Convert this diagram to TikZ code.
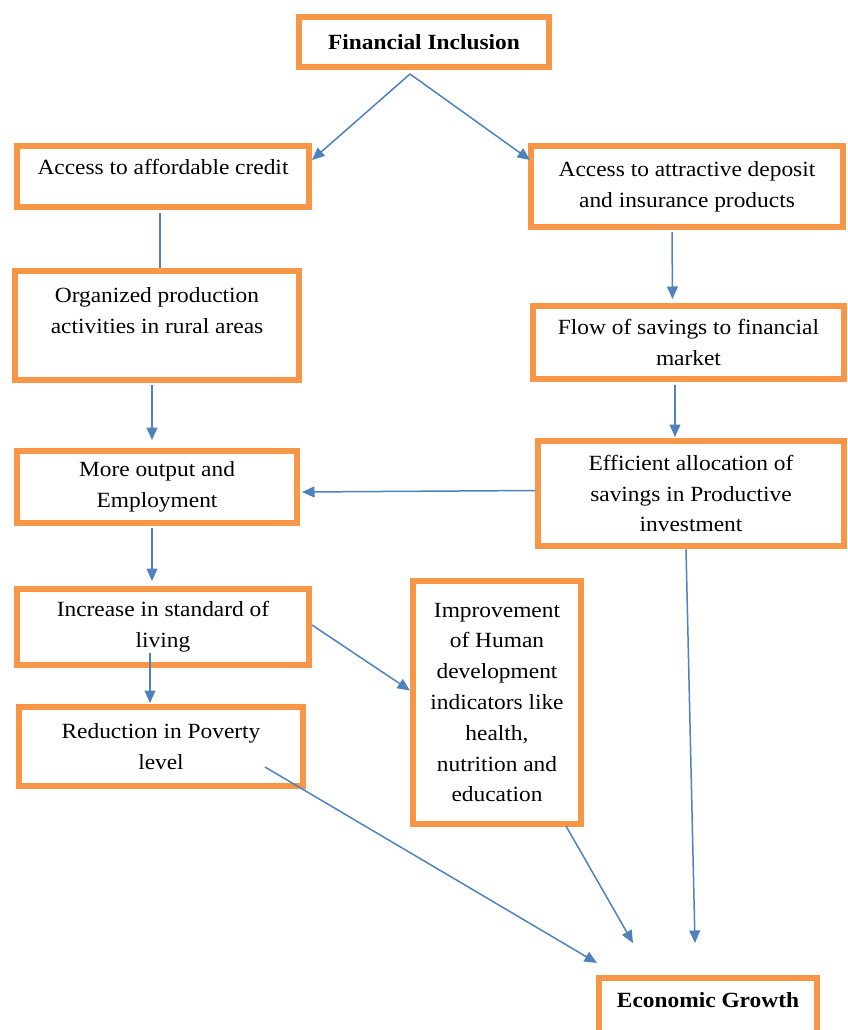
\documentclass[tikz,border=0pt]{standalone}
\usepackage{fontspec}
\setmainfont{Liberation Serif}[FakeStretch=1.08]
\usetikzlibrary{arrows.meta, positioning, calc}
\definecolor{boxorange}{HTML}{F79646}
\definecolor{arrowblue}{HTML}{4F81BD}

\begin{document}
\begin{tikzpicture}[
	x=0.6pt, y=-0.6pt,
	box/.style = {draw=boxorange, line width=3.6pt, align=center, inner sep=2pt,
	              font=\fontsize{13}{18.5}\selectfont},
	title/.style = {box, font=\fontsize{13}{18.5}\selectfont\bfseries},
	link/.style = {draw=arrowblue, line width=0.9pt},
	arr/.style = {link, -{Triangle[length=7.5pt, width=6.5pt]}}
     ]
\useasboundingbox (0,0) rectangle (847,1030);
\clip (0,0) rectangle (847,1030);
%
		\node (fi) [title, minimum width=150pt, minimum height=30pt] at (424,42) {Financial Inclusion};
		\node (credit) [box, minimum width=175.2pt, minimum height=36.6pt, text depth=11pt] at (163,176.5) {Access to affordable credit};
		\node (deposit) [box, minimum width=187.2pt, minimum height=48.6pt] at (687,186.5) {Access to attractive deposit\\and insurance products};
		\node (organized) [box, minimum width=170.4pt, minimum height=65.4pt, text depth=18pt] at (157,325.5) {Organized production\\activities in rural areas};
		\node (flow) [box, minimum width=186.6pt, minimum height=43.8pt] at (688.5,342.5) {Flow of savings to financial\\market};
		\node (output) [box, minimum width=168pt, minimum height=43.2pt] at (157,487) {More output and\\Employment};
		\node (alloc) [box, minimum width=183.6pt, minimum height=63pt] at (691,493.5) {Efficient allocation of\\savings in Productive\\investment};
		\node (living) [box, minimum width=175.2pt, minimum height=45.6pt] at (163,627) {Increase in standard of\\living};
		\node (human) [box, minimum width=100.8pt, minimum height=145.8pt] at (497,702.5) {Improvement\\of Human\\development\\indicators like\\health,\\nutrition and\\education};
		\node (poverty) [box, minimum width=170.4pt, minimum height=47.4pt] at (161,746.5) {Reduction in Poverty\\level};
		\node (growth) [title, minimum width=130.8pt, minimum height=34.8pt, text depth=8pt] at (708,1007) {Economic Growth};
%
		\coordinate (apex) at ($(fi.south)+(-14,4)$);
		\draw[arr] (apex) -- ($(credit.north east)+(0,17)$);
		\draw[arr] (apex) -- ($(deposit.north west)+(2,17)$);
%
		\coordinate (c1) at ($(credit.south)+(-3,3)$);
		\draw[link] (c1) -- (c1 |- organized.north);
		\draw[arr] ($(deposit.south)+(-15,2)$) -- ($(flow.north)+(-16,-4)$);
		\draw[arr] ($(organized.south)+(-5,2)$) -- ($(output.north)+(-5,-8)$);
		\draw[arr] ($(flow.south)+(-13.5,3)$) -- ($(alloc.north)+(-16,-1)$);
		\draw[arr] ($(alloc.west)+(0,-3)$) -- ($(output.east)+(2,5)$);
		\draw[arr] ($(output.south)+(-5,2)$) -- ($(living.north)+(-11,-5)$);
		\draw[arr] ($(living.south)+(-13,-15)$) -- ($(poverty.north)+(-11,-1)$);
		\draw[arr] ($(living.east)+(0,-2)$) -- ($(human.west)+(0,-12)$);
%
		\draw[arr] ($(poverty.east)+(-41,20.5)$) -- ($(growth.north west)+(1,-12)$);
		\draw[arr] ($(human.south east)+(-18,-1)$) -- ($(growth.north)+(-75,-32)$);
		\draw[arr] ($(alloc.south)+(-5,0)$) -- ($(growth.north)+(-13,-32)$);
\end{tikzpicture}
\end{document}
